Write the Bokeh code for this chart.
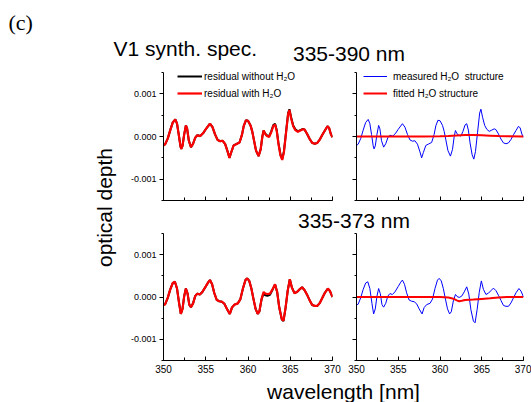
from math import pi
from bokeh.plotting import figure
from bokeh.models import (Label, Legend, LegendItem, SingleIntervalTicker,
                          PrintfTickFormatter, Range1d, CustomJSTickFormatter)
from bokeh.layouts import column, row
from bokeh.embed import file_html
from bokeh.resources import INLINE

FONT = "Liberation Sans"

# ---------------- data ----------------
wl_top = [350.0, 350.2, 350.5, 350.8, 351.1, 351.4, 351.6, 351.8, 352.0, 352.1,
          352.25, 352.45, 352.65, 352.8, 353.0, 353.25, 353.5, 353.75, 354.0, 354.35,
          354.7, 355.0, 355.5, 355.8, 356.1, 356.4, 356.7, 357.0, 357.3, 357.6,
          357.8, 358.0, 358.3, 358.6, 359.0, 359.3, 359.5, 359.75, 360.0, 360.3,
          360.5, 360.7, 360.95, 361.25, 361.5, 361.7, 361.85, 362.0, 362.2, 362.5,
          362.75, 363.0, 363.2, 363.4, 363.6, 363.85, 364.05, 364.25, 364.5, 364.75,
          364.9, 365.1, 365.35, 365.6, 365.9, 366.2, 366.5, 366.7, 367.0, 367.3,
          367.6, 367.9, 368.2, 368.5, 368.8, 369.1, 369.4, 369.6, 369.8, 370.0]
# residual without H2O = measured H2O structure (fit window 335-390 nm)
measured_top = [-0.21e-3, -0.18e-3, -0.05e-3, 0.15e-3, 0.33e-3, 0.40e-3, 0.30e-3, 0.05e-3, -0.22e-3, -0.29e-3,
                -0.22e-3, 0.05e-3, 0.26e-3, 0.18e-3, -0.10e-3, -0.25e-3, -0.17e-3, -0.03e-3, 0.03e-3, 0.01e-3,
                0.08e-3, 0.17e-3, 0.30e-3, 0.22e-3, 0.05e-3, -0.08e-3, -0.11e-3, -0.10e-3, -0.18e-3, -0.36e-3,
                -0.50e-3, -0.38e-3, -0.21e-3, -0.18e-3, -0.14e-3, 0.05e-3, 0.25e-3, 0.38e-3, 0.37e-3, 0.26e-3,
                0.12e-3, -0.08e-3, -0.33e-3, -0.46e-3, -0.30e-3, 0.00e-3, 0.14e-3, 0.08e-3, 0.03e-3, 0.01e-3,
                0.12e-3, 0.27e-3, 0.30e-3, 0.15e-3, -0.15e-3, -0.43e-3, -0.53e-3, -0.35e-3, 0.10e-3, 0.55e-3,
                0.64e-3, 0.45e-3, 0.26e-3, 0.17e-3, 0.12e-3, 0.15e-3, 0.18e-3, 0.16e-3, 0.06e-3, -0.06e-3,
                -0.15e-3, -0.17e-3, -0.15e-3, -0.07e-3, 0.04e-3, 0.14e-3, 0.24e-3, 0.20e-3, 0.06e-3, -0.02e-3]
res_with_top = [-0.21e-3, -0.18e-3, -0.05e-3, 0.15e-3, 0.33e-3, 0.40e-3, 0.30e-3, 0.05e-3, -0.22e-3, -0.29e-3,
                -0.22e-3, 0.05e-3, 0.26e-3, 0.18e-3, -0.10e-3, -0.25e-3, -0.17e-3, -0.03e-3, 0.03e-3, 0.01e-3,
                0.08e-3, 0.17e-3, 0.30e-3, 0.22e-3, 0.05e-3, -0.08e-3, -0.11e-3, -0.10e-3, -0.18e-3, -0.36e-3,
                -0.50e-3, -0.38e-3, -0.21e-3, -0.18e-3, -0.14e-3, 0.05e-3, 0.25e-3, 0.38e-3, 0.37e-3, 0.26e-3,
                0.12e-3, -0.08e-3, -0.33e-3, -0.46e-3, -0.30e-3, 0.00e-3, 0.14e-3, 0.07e-3, 0.02e-3, -0.01e-3,
                0.10e-3, 0.25e-3, 0.28e-3, 0.13e-3, -0.17e-3, -0.45e-3, -0.55e-3, -0.37e-3, 0.08e-3, 0.53e-3,
                0.62e-3, 0.43e-3, 0.24e-3, 0.15e-3, 0.11e-3, 0.14e-3, 0.17e-3, 0.16e-3, 0.06e-3, -0.06e-3,
                -0.15e-3, -0.17e-3, -0.15e-3, -0.07e-3, 0.04e-3, 0.14e-3, 0.24e-3, 0.20e-3, 0.06e-3, -0.02e-3]
wl_fit_top = [350.0, 355.0, 358.0, 360.0, 361.0, 362.0, 363.0, 364.0, 365.0, 366.0, 367.0, 368.0, 370.0]
fitted_top = [0.0, 0.0, 0.0, 0.005e-3, 0.012e-3, 0.025e-3, 0.035e-3, 0.035e-3, 0.03e-3, 0.02e-3, 0.01e-3, 0.005e-3, 0.0]

wl_bot = [350.0, 350.2, 350.5, 350.8, 351.1, 351.35, 351.6, 351.85, 352.05, 352.25,
          352.45, 352.65, 352.85, 353.05, 353.25, 353.5, 353.75, 354.0, 354.3, 354.6,
          355.0, 355.3, 355.5, 355.75, 356.0, 356.3, 356.6, 356.9, 357.2, 357.5,
          357.85, 358.1, 358.4, 358.8, 359.1, 359.4, 359.7, 359.9, 360.15, 360.4,
          360.65, 360.9, 361.15, 361.35, 361.6, 361.85, 362.05, 362.3, 362.6, 362.9,
          363.2, 363.45, 363.7, 364.0, 364.2, 364.45, 364.7, 364.95, 365.2, 365.5,
          365.8, 366.1, 366.4, 366.7, 367.0, 367.3, 367.6, 367.9, 368.2, 368.5,
          368.8, 369.1, 369.45, 369.7, 370.0]
# measured H2O structure (fit window 335-373 nm)
structure_bot = [-0.19e-3, -0.17e-3, -0.02e-3, 0.18e-3, 0.33e-3, 0.36e-3, 0.20e-3, -0.15e-3, -0.40e-3, -0.28e-3,
                 0.02e-3, 0.20e-3, 0.08e-3, -0.18e-3, -0.24e-3, -0.15e-3, 0.02e-3, 0.08e-3, 0.06e-3, 0.12e-3,
                 0.25e-3, 0.35e-3, 0.40e-3, 0.30e-3, 0.10e-3, -0.07e-3, -0.10e-3, -0.11e-3, -0.16e-3, -0.28e-3,
                 -0.40e-3, -0.25e-3, -0.18e-3, -0.15e-3, -0.05e-3, 0.20e-3, 0.40e-3, 0.44e-3, 0.38e-3, 0.20e-3,
                 -0.05e-3, -0.28e-3, -0.40e-3, -0.35e-3, -0.09e-3, 0.06e-3, 0.01e-3, -0.01e-3, 0.02e-3, 0.12e-3,
                 0.24e-3, 0.07e-3, -0.30e-3, -0.57e-3, -0.61e-3, -0.29e-3, 0.11e-3, 0.38e-3, 0.18e-3, 0.06e-3,
                 0.09e-3, 0.15e-3, 0.21e-3, 0.15e-3, 0.04e-3, -0.08e-3, -0.20e-3, -0.22e-3, -0.22e-3, -0.14e-3,
                 -0.02e-3, 0.10e-3, 0.20e-3, 0.14e-3, 0.0]
res_without_bot = [-0.19e-3, -0.17e-3, -0.02e-3, 0.18e-3, 0.33e-3, 0.36e-3, 0.20e-3, -0.15e-3, -0.40e-3, -0.28e-3,
                   0.02e-3, 0.20e-3, 0.08e-3, -0.18e-3, -0.24e-3, -0.15e-3, 0.02e-3, 0.08e-3, 0.06e-3, 0.12e-3,
                   0.25e-3, 0.35e-3, 0.40e-3, 0.30e-3, 0.10e-3, -0.07e-3, -0.10e-3, -0.11e-3, -0.16e-3, -0.28e-3,
                   -0.40e-3, -0.25e-3, -0.18e-3, -0.15e-3, -0.05e-3, 0.20e-3, 0.40e-3, 0.44e-3, 0.38e-3, 0.20e-3,
                   -0.05e-3, -0.28e-3, -0.40e-3, -0.34e-3, -0.06e-3, 0.09e-3, 0.04e-3, 0.03e-3, 0.05e-3, 0.17e-3,
                   0.30e-3, 0.12e-3, -0.25e-3, -0.53e-3, -0.57e-3, -0.25e-3, 0.15e-3, 0.42e-3, 0.22e-3, 0.09e-3,
                   0.12e-3, 0.18e-3, 0.23e-3, 0.16e-3, 0.05e-3, -0.08e-3, -0.19e-3, -0.21e-3, -0.21e-3, -0.14e-3,
                   -0.02e-3, 0.10e-3, 0.20e-3, 0.14e-3, 0.0]
res_with_bot = [-0.19e-3, -0.17e-3, -0.02e-3, 0.18e-3, 0.33e-3, 0.36e-3, 0.20e-3, -0.15e-3, -0.40e-3, -0.28e-3,
                0.02e-3, 0.20e-3, 0.08e-3, -0.18e-3, -0.24e-3, -0.15e-3, 0.02e-3, 0.08e-3, 0.06e-3, 0.12e-3,
                0.25e-3, 0.35e-3, 0.40e-3, 0.30e-3, 0.10e-3, -0.07e-3, -0.10e-3, -0.11e-3, -0.16e-3, -0.28e-3,
                -0.40e-3, -0.25e-3, -0.18e-3, -0.15e-3, -0.05e-3, 0.20e-3, 0.40e-3, 0.44e-3, 0.38e-3, 0.20e-3,
                -0.05e-3, -0.28e-3, -0.40e-3, -0.34e-3, -0.05e-3, 0.12e-3, 0.08e-3, 0.07e-3, 0.08e-3, 0.18e-3,
                0.30e-3, 0.12e-3, -0.25e-3, -0.52e-3, -0.56e-3, -0.25e-3, 0.15e-3, 0.42e-3, 0.22e-3, 0.09e-3,
                0.12e-3, 0.18e-3, 0.23e-3, 0.16e-3, 0.05e-3, -0.08e-3, -0.19e-3, -0.21e-3, -0.21e-3, -0.14e-3,
                -0.02e-3, 0.10e-3, 0.20e-3, 0.14e-3, 0.0]
wl_fit_bot = [350.0, 355.0, 360.0, 361.0, 361.6, 362.0, 362.3, 362.6, 363.0, 364.0, 365.0, 366.0, 367.0, 368.0, 370.0]
fitted_bot = [0.0, 0.0, 0.0, -0.01e-3, -0.04e-3, -0.08e-3, -0.10e-3, -0.09e-3, -0.07e-3, -0.06e-3,
              -0.045e-3, -0.03e-3, -0.01e-3, 0.0, 0.0]

x_limits = (350, 370)
y_limits = (-0.0015, 0.0015)

legend_left = ["residual without H\u2082O", "residual with H\u2082O"]
legend_right = ["measured H\u2082O  structure", "fitted H\u2082O structure"]
titles = ["(c)", "V1 synth. spec.", "335-390 nm", "335-373 nm"]
y_title = "optical depth"
x_title = "wavelength [nm]"


def text_fig(w, h):
    p = figure(width=w, height=h, x_range=Range1d(0, w), y_range=Range1d(0, h),
               output_backend="svg", toolbar_location=None,
               x_axis_location=None, y_axis_location=None,
               min_border=0)
    p.grid.visible = False
    p.outline_line_color = None
    p.background_fill_color = "white"
    p.border_fill_color = "white"
    return p


def panel(bl, br, bt, bb, fw, fh, ylabels, xlabels):
    p = figure(width=bl + fw + br, height=bt + fh + bb,
               x_range=Range1d(*x_limits), y_range=Range1d(*y_limits),
               output_backend="svg", toolbar_location=None,
               min_border_left=bl, min_border_right=br,
               min_border_top=bt, min_border_bottom=bb)
    p.grid.visible = False
    p.outline_line_color = None
    p.background_fill_color = "white"
    p.border_fill_color = "white"
    xa = p.xaxis[0]
    ya = p.yaxis[0]
    xa.ticker = SingleIntervalTicker(interval=5, num_minor_ticks=2)
    ya.ticker = SingleIntervalTicker(interval=0.001, num_minor_ticks=2)
    for a in (xa, ya):
        a.axis_line_color = "black"
        a.axis_line_width = 1
        a.major_tick_line_color = "black"
        a.minor_tick_line_color = "black"
        a.major_label_text_font = FONT
        a.major_label_text_color = "black"
    xa.major_tick_in = 4
    xa.major_tick_out = 0
    xa.minor_tick_in = 3
    xa.minor_tick_out = 0
    ya.major_tick_in = 0
    ya.major_tick_out = 4
    ya.minor_tick_in = 0
    ya.minor_tick_out = 2
    xa.major_label_text_font_size = "10px"
    ya.major_label_text_font_size = "9px"
    ya.formatter = PrintfTickFormatter(format="%.3f")
    if not ylabels:
        ya.formatter = CustomJSTickFormatter(code="return ''")
        ya.major_label_standoff = 0
    else:
        ya.major_label_standoff = 3
    if not xlabels:
        xa.formatter = CustomJSTickFormatter(code="return ''")
        xa.major_label_standoff = 0
    else:
        xa.major_label_standoff = 4
    return p


def add_legend(p, items, x0, gw, standoff):
    lg = Legend(items=items, location=(x0, 101), orientation="vertical",
                padding=0, margin=0, spacing=5, glyph_width=gw, glyph_height=12,
                label_height=12, label_standoff=standoff,
                label_text_font=FONT, label_text_font_size="10px",
                label_text_color="black", border_line_color=None,
                background_fill_alpha=0)
    p.add_layout(lg)


LW = 122
# top row
tl = panel(41, 12, 6, 5, 169, 128, True, False)
r1 = tl.line(wl_top, measured_top, line_color="black", line_width=2)
r2 = tl.line(wl_top, res_with_top, line_color="#ff0000", line_width=2.2)
add_legend(tl, [LegendItem(label=legend_left[0], renderers=[r1]),
                LegendItem(label=legend_left[1], renderers=[r2])], 14, 25, 2)

tr = panel(12, 8, 6, 5, 167, 128, False, False)
r3 = tr.line(wl_top, measured_top, line_color="#0000ff", line_width=1)
r4 = tr.line(wl_fit_top, fitted_top, line_color="#ff0000", line_width=2)
add_legend(tr, [LegendItem(label=legend_right[0], renderers=[r3]),
                LegendItem(label=legend_right[1], renderers=[r4])], 7, 24, 6)

# bottom row
bl_ = panel(41, 12, 1, 17, 169, 127, True, True)
bl_.line(wl_bot, res_without_bot, line_color="black", line_width=2)
bl_.line(wl_bot, res_with_bot, line_color="#ff0000", line_width=2.2)

br_ = panel(12, 8, 1, 17, 167, 127, False, True)
br_.line(wl_bot, structure_bot, line_color="#0000ff", line_width=1)
br_.line(wl_fit_bot, fitted_bot, line_color="#ff0000", line_width=2)

# text canvases
header = text_fig(531, 66)
header.add_layout(Label(x=8, y=44, text=titles[0], text_font="Liberation Serif",
                        text_font_size="22px", text_baseline="middle", text_color="black"))
header.add_layout(Label(x=113, y=18.4, text=titles[1], text_font=FONT,
                        text_font_size="21px", text_baseline="middle", text_color="black"))
header.add_layout(Label(x=348.5, y=13.4, text=titles[2], text_font=FONT, text_align="center",
                        text_font_size="21px", text_baseline="middle", text_color="black"))

mid = text_fig(409, 27)
mid.add_layout(Label(x=231.5, y=12, text=titles[3], text_font=FONT, text_align="center",
                     text_font_size="21px", text_baseline="middle", text_color="black"))

bottom = text_fig(409, 25)
bottom.add_layout(Label(x=221, y=11.5, text=x_title, text_font=FONT, text_align="center",
                        text_font_size="21px", text_baseline="middle", text_color="black"))

left = text_fig(LW, 336)
left.add_layout(Label(x=104, y=195, text=y_title, text_font=FONT, text_align="center",
                      text_font_size="21px", text_baseline="middle", angle=pi / 2,
                      text_color="black"))

layout = column(header,
                row(left, column(row(tl, tr), mid, row(bl_, br_), bottom)))

open("out.html", "w").write(file_html(layout, INLINE))
